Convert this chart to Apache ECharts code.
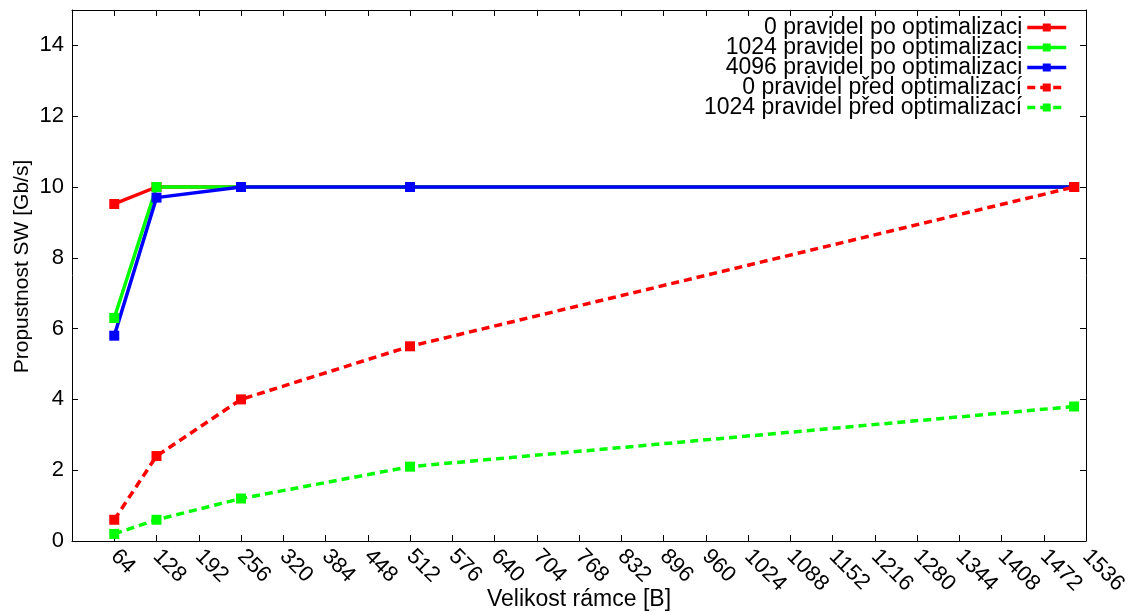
<!DOCTYPE html>
<html>
<head>
<meta charset="utf-8">
<script src="https://cdn.jsdelivr.net/npm/echarts@6/dist/echarts.min.js"></script>
<style>
  html, body { margin: 0; padding: 0; background: #fff; }
  #chart { width: 1140px; height: 615px; }
</style>
</head>
<body>
<div id="chart"></div>
<script>
// Frame sizes in bytes
const frameSizes = [64, 128, 256, 512, 1518];

// Throughput in Gb/s
const rules0After    = [9.52, 10, 10, 10, 10];
const rules1024After = [6.3, 10, 10, 10, 10];
const rules4096After = [5.8, 9.7, 10, 10, 10];
const rules0Before   = [0.6, 2.4, 4.0, 5.5, 10];
const rules1024Before = [0.2, 0.6, 1.2, 2.1, 3.8];

const seriesNames = [
  '0 pravidel po optimalizaci',
  '1024 pravidel po optimalizaci',
  '4096 pravidel po optimalizaci',
  '0 pravidel před optimalizací',
  '1024 pravidel před optimalizací'
];

const FONT = '"Liberation Sans", Arial, sans-serif';
const FS = 23;       // legend and x axis title
const FS_YNAME = 21; // y axis title
const FS_TICK = 22;  // tick labels

function pairs(values) {
  return frameSizes.map((x, i) => [x, values[i]]);
}

function makeSeries(name, values, color, dashed) {
  return {
    name: name,
    type: 'line',
    xAxisIndex: 0,
    yAxisIndex: 0,
    data: pairs(values),
    symbol: 'rect',
    symbolSize: 10,
    showAllSymbol: true,
    animation: false,
    itemStyle: { color: color },
    lineStyle: { color: color, width: 3.5, type: dashed ? [8, 5] : 'solid' },
    emphasis: { disabled: true }
  };
}

const chart = echarts.init(document.getElementById('chart'), null, { renderer: 'canvas' });

const axisCommon = {
  axisLine: { show: true, onZero: false, lineStyle: { color: '#000', width: 1 } },
  axisTick: { show: true, inside: true, length: 6, lineStyle: { color: '#000', width: 1 } },
  splitLine: { show: false }
};

chart.setOption({
  backgroundColor: '#fff',
  animation: false,
  textStyle: { fontFamily: FONT },
  grid: { left: 72, right: 54, top: 10, bottom: 74, containLabel: false, outerBoundsMode: 'none' },
  legend: {
    orient: 'vertical',
    align: 'right',
    right: 67,
    top: 11,
    itemWidth: 39,
    itemHeight: 10,
    itemGap: -3,
    data: seriesNames,
    lineStyle: { width: 3.5 },
    textStyle: { fontFamily: FONT, fontSize: FS, color: '#000', lineHeight: 20 },
    selectedMode: false
  },
  xAxis: [
    Object.assign({}, axisCommon, {
      type: 'value',
      position: 'bottom',
      min: 0, max: 1536, interval: 64,
      name: 'Velikost rámce [B]',
      nameLocation: 'middle',
      nameGap: 47,
      nameMoveOverlap: false,
      nameTextStyle: { fontFamily: FONT, fontSize: FS, color: '#000' },
      axisLabel: {
        rotate: -45,
        margin: 12,
        fontFamily: FONT, fontSize: FS_TICK, color: '#000',
        showMinLabel: false,
        formatter: v => (v === 0 ? '' : String(v))
      }
    }),
    Object.assign({}, axisCommon, {
      type: 'value',
      position: 'top',
      min: 0, max: 1536, interval: 64,
      axisLabel: { show: false }
    })
  ],
  yAxis: [
    Object.assign({}, axisCommon, {
      type: 'value',
      position: 'left',
      min: 0, max: 15, interval: 2,
      name: 'Propustnost SW [Gb/s]',
      nameLocation: 'middle',
      nameGap: 39,
      nameMoveOverlap: false,
      nameTextStyle: { fontFamily: FONT, fontSize: FS_YNAME, color: '#000', padding: [0, 0, 0, 18] },
      axisLabel: {
        margin: 8,
        fontFamily: FONT, fontSize: FS_TICK, color: '#000',
        showMaxLabel: false,
        formatter: v => (v > 14 ? '' : String(v))
      }
    }),
    Object.assign({}, axisCommon, {
      type: 'value',
      position: 'right',
      min: 0, max: 15, interval: 2,
      axisLabel: { show: false }
    })
  ],
  series: [
    makeSeries(seriesNames[0], rules0After, '#ff0000', false),
    makeSeries(seriesNames[1], rules1024After, '#00ff00', false),
    makeSeries(seriesNames[2], rules4096After, '#0000ff', false),
    makeSeries(seriesNames[3], rules0Before, '#ff0000', true),
    makeSeries(seriesNames[4], rules1024Before, '#00ff00', true)
  ]
});
</script>
</body>
</html>
